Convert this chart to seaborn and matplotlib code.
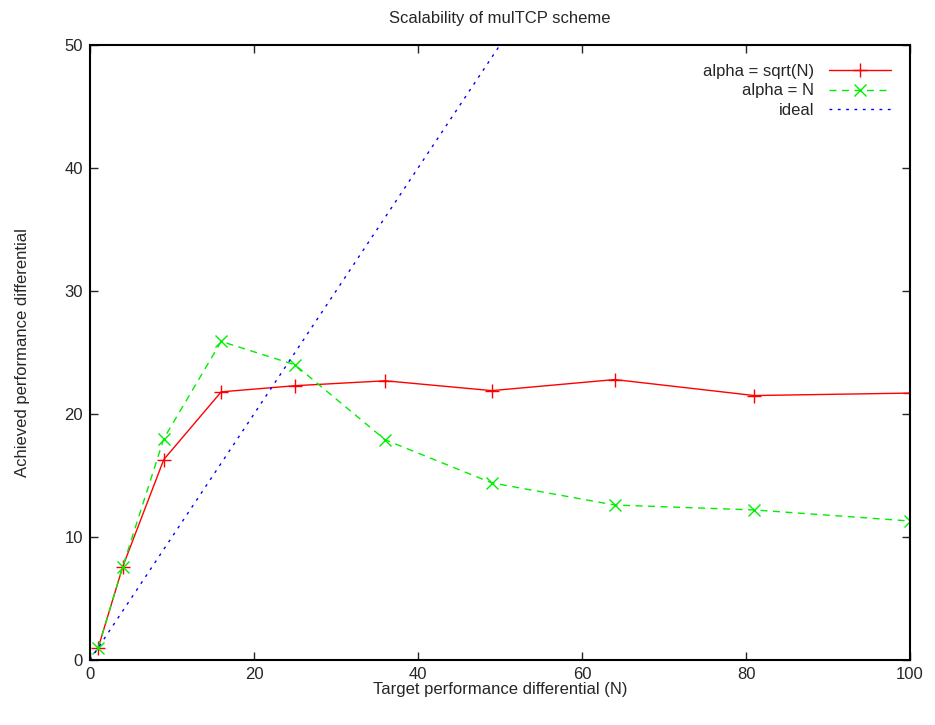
import pandas as pd
import matplotlib
matplotlib.use('Agg')
import matplotlib.pyplot as plt
import seaborn as sns

# data
target_n = [1, 4, 9, 16, 25, 36, 49, 64, 81, 100]
alpha_sqrt = [1.0, 7.6, 16.3, 21.8, 22.3, 22.7, 21.9, 22.8, 21.5, 21.7]
alpha_n = [1.0, 7.6, 18.0, 25.9, 24.0, 17.9, 14.4, 12.6, 12.2, 11.3]
ideal_x = [0, 100]
ideal_y = [0, 100]

sns.set_style('ticks')
plt.rcParams['font.family'] = ['Liberation Sans', 'DejaVu Sans']
plt.rcParams['font.size'] = 12

fig = plt.figure(figsize=(9.35, 7.25), dpi=100)
ax = fig.add_axes([90 / 935, 65 / 725, 820 / 935, 615 / 725])

df_sqrt = pd.DataFrame({'x': target_n, 'y': alpha_sqrt})
df_n = pd.DataFrame({'x': target_n, 'y': alpha_n})
df_ideal = pd.DataFrame({'x': ideal_x, 'y': ideal_y})

sns.lineplot(data=df_sqrt, x='x', y='y', ax=ax, color='#ff0000', lw=1,
             marker='+', markersize=10, markeredgewidth=1,
             markeredgecolor='#ff0000', label='alpha = sqrt(N)')
sns.lineplot(data=df_n, x='x', y='y', ax=ax, color='#00ee00', lw=1,
             linestyle=(0, (5, 4)), marker='x', markersize=8,
             markeredgewidth=1, markeredgecolor='#00ee00',
             label='alpha = N')
sns.lineplot(data=df_ideal, x='x', y='y', ax=ax, color='#0000ff', lw=1,
             linestyle=(0, (2, 4)), label='ideal')

ax.set_xlim(0, 100)
ax.set_ylim(0, 50)
ax.set_xticks([0, 20, 40, 60, 80, 100])
ax.set_yticks([0, 10, 20, 30, 40, 50])
ax.tick_params(direction='in', length=6, width=1, top=True, right=True,
               labelsize=12, pad=5)
for s in ax.spines.values():
    s.set_visible(True)
    s.set_linewidth(1.5)
    s.set_color('black')

ax.set_title('Scalability of mulTCP scheme', fontsize=12, pad=16)
ax.set_xlabel('Target performance differential (N)', fontsize=12, labelpad=0)
ax.set_ylabel('Achieved performance differential', fontsize=12, labelpad=25)

ax.legend(loc='upper right', frameon=False, markerfirst=False, fontsize=12,
          handlelength=3.7, handletextpad=0.9, labelspacing=0.25,
          borderaxespad=0.95, borderpad=0.2)

fig.savefig('out.png', dpi=100)
